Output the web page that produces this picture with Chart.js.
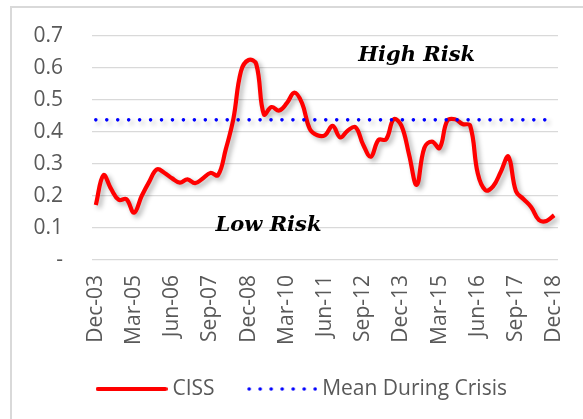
<!DOCTYPE html>
<html>
<head>
<meta charset="utf-8">
<script src="https://cdn.jsdelivr.net/npm/chart.js@4.4.1/dist/chart.umd.min.js"></script>
<style>
  html, body { margin: 0; padding: 0; background: #fff; }
  canvas { display: block; }
</style>
</head>
<body>
<canvas id="chart_div" width="583" height="419"></canvas>
<script>
const categories = [
  "Dec-03", "Mar-04", "Jun-04", "Sep-04", "Dec-04",
  "Mar-05", "Jun-05", "Sep-05", "Dec-05", "Mar-06",
  "Jun-06", "Sep-06", "Dec-06", "Mar-07", "Jun-07",
  "Sep-07", "Dec-07", "Mar-08", "Jun-08", "Sep-08",
  "Dec-08", "Mar-09", "Jun-09", "Sep-09", "Dec-09",
  "Mar-10", "Jun-10", "Sep-10", "Dec-10", "Mar-11",
  "Jun-11", "Sep-11", "Dec-11", "Mar-12", "Jun-12",
  "Sep-12", "Dec-12", "Mar-13", "Jun-13", "Sep-13",
  "Dec-13", "Mar-14", "Jun-14", "Sep-14", "Dec-14",
  "Mar-15", "Jun-15", "Sep-15", "Dec-15", "Mar-16",
  "Jun-16", "Sep-16", "Dec-16", "Mar-17", "Jun-17",
  "Sep-17", "Dec-17", "Mar-18", "Jun-18", "Sep-18",
  "Dec-18"
];
const cissValues = [
  0.172, 0.265, 0.222, 0.188, 0.190,
  0.148, 0.200, 0.245, 0.283, 0.272,
  0.255, 0.242, 0.252, 0.240, 0.255,
  0.272, 0.265, 0.345, 0.440, 0.590,
  0.625, 0.612, 0.455, 0.478, 0.467,
  0.490, 0.523, 0.490, 0.410, 0.390,
  0.390, 0.419, 0.383, 0.405, 0.415,
  0.360, 0.323, 0.375, 0.377, 0.440,
  0.420, 0.330, 0.235, 0.350, 0.370,
  0.350, 0.435, 0.440, 0.425, 0.420,
  0.270, 0.218, 0.230, 0.275, 0.323,
  0.215, 0.190, 0.165, 0.125, 0.122,
  0.140
];
const meanDuringCrisis = 0.438;
const yTickValues = [0, 0.1, 0.2, 0.3, 0.4, 0.5, 0.6, 0.7];

const grey = '#595959';
const gridGrey = '#d9d9d9';

// little canvases used as legend swatches
function swatch(kind) {
  const c = document.createElement('canvas');
  c.width = 72; c.height = 8;
  const g = c.getContext('2d');
  if (kind === 'solid') {
    g.strokeStyle = '#ff0000';
    g.lineWidth = 4;
    g.lineCap = 'round';
    g.beginPath(); g.moveTo(2, 4); g.lineTo(70, 4); g.stroke();
  } else {
    g.fillStyle = '#0000ff';
    for (let i = 0; i < 7; i++) {
      g.beginPath(); g.arc(4 + i * 11, 4, 1.8, 0, Math.PI * 2); g.fill();
    }
  }
  return c;
}
const redSwatch = swatch('solid');
const blueSwatch = swatch('dots');

const framePlugin = {
  id: 'frame',
  afterLayout(chart) {
    // nudge the legend to where the original had it
    const lg = chart.legend;
    lg.left += 25; lg.right += 25;
    lg.top -= 3.5; lg.bottom -= 3.5;
  },
  beforeDraw(chart) {
    const c = chart.ctx;
    c.save();
    c.strokeStyle = gridGrey;
    c.lineWidth = 2;
    c.beginPath();
    c.moveTo(11, 419); c.lineTo(11, 7); c.lineTo(583, 7);
    c.stroke();
    c.restore();
  }
};

const shadowPlugin = {
  id: 'shadow',
  beforeDatasetDraw(chart) {
    const c = chart.ctx;
    c.save();
    c.shadowColor = 'rgba(0,0,0,0.3)';
    c.shadowBlur = 5;
    c.shadowOffsetX = 3;
    c.shadowOffsetY = 3;
  },
  afterDatasetDraw(chart) {
    chart.ctx.restore();
  }
};

const riskLabels = {
  id: 'riskLabels',
  afterDatasetsDraw(chart, args, opts) {
    const { ctx, scales: { x, y } } = chart;
    ctx.save();
    ctx.font = 'italic bold 21px "DejaVu Serif"';
    ctx.fillStyle = '#000';
    ctx.textAlign = 'center';
    ctx.textBaseline = 'alphabetic';
    opts.items.forEach(it => {
      ctx.fillText(it.text, x.getPixelForValue(it.at), y.getPixelForValue(it.level));
    });
    ctx.restore();
  }
};

const ctx = document.getElementById('chart_div');
new Chart(ctx, {
  type: 'line',
  data: {
    labels: categories,
    datasets: [
      {
        label: 'CISS',
        data: cissValues,
        borderColor: '#ff0000',
        borderWidth: 4.2,
        tension: 0.4,
        pointRadius: 0,
        order: 1
      },
      {
        label: 'Mean During Crisis',
        data: categories.map(() => meanDuringCrisis),
        borderColor: '#0000ff',
        borderWidth: 3.6,
        borderDash: [0, 10.95],
        borderCapStyle: 'round',
        pointRadius: 0,
        order: 0
      }
    ]
  },
  options: {
    responsive: false,
    animation: false,
    devicePixelRatio: 1,
    layout: { padding: { top: 36, right: 25, bottom: 6, left: 0 } },
    plugins: {
      tooltip: { enabled: false },
      legend: {
        position: 'bottom',
        labels: {
          usePointStyle: true,
          pointStyleWidth: 61,
          padding: 36,
          color: grey,
          font: { family: '"Open Sans"', size: 21 },
          generateLabels: () => [
            { text: 'CISS', pointStyle: redSwatch, fontColor: grey, lineWidth: 0, hidden: false, datasetIndex: 0 },
            { text: 'Mean During Crisis', pointStyle: blueSwatch, fontColor: grey, lineWidth: 0, hidden: false, datasetIndex: 1 }
          ]
        }
      },
      riskLabels: {
        items: [
          { text: 'High Risk', at: 42, level: 0.623 },
          { text: 'Low Risk', at: 22.6, level: 0.092 }
        ]
      }
    },
    scales: {
      x: {
        offset: true,
        grid: { display: false, drawTicks: false },
        border: { display: false },
        ticks: {
          autoSkip: false,
          maxRotation: 90,
          minRotation: 90,
          padding: 15,
          color: grey,
          font: { family: '"Open Sans"', size: 21 },
          callback: (v, i) => (i % 5 === 0 ? categories[i] : '')
        },
        afterFit: s => { s.height = 86; s.paddingLeft = 0; s.paddingRight = 0; }
      },
      y: {
        min: 0,
        max: 0.7,
        afterBuildTicks: s => { s.ticks = yTickValues.map(v => ({ value: v })); },
        grid: { color: gridGrey, lineWidth: 1.3, drawTicks: false },
        border: { display: false },
        ticks: {
          padding: 29,
          color: grey,
          font: { family: '"Open Sans"', size: 21 },
          callback: v => (v === 0 ? '-' : v.toFixed(1))
        },
        afterFit: s => { s.width = 92; s.paddingTop = 0; s.paddingBottom = 0; }
      }
    }
  },
  plugins: [framePlugin, shadowPlugin, riskLabels]
});
</script>
</body>
</html>
